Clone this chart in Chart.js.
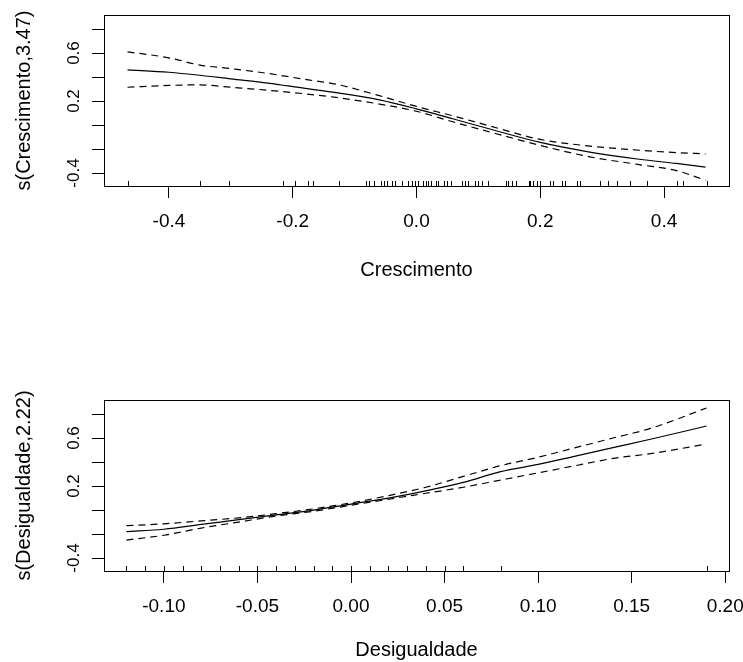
<!DOCTYPE html>
<html>
<head>
<meta charset="utf-8">
<script src="https://cdn.jsdelivr.net/npm/chart.js@4.4.0/dist/chart.umd.min.js"></script>
<style>
    body { margin: 0; background: #fff; }
    canvas { position: absolute; left: 0; }
    #chart1 { top: 0; }
    #chart2 { top: 331px; }
</style>
</head>
<body>
<canvas id="chart1" width="743" height="331"></canvas>
<canvas id="chart2" width="743" height="331"></canvas>
<script>
// Crescimento term
const crescX = [-0.467, -0.4, -0.35, -0.3, -0.24, -0.18, -0.13, -0.06, 0.0, 0.06, 0.12, 0.2, 0.28, 0.36, 0.42, 0.467];
const crescFit = [0.46, 0.44, 0.415, 0.385, 0.35, 0.305, 0.27, 0.21, 0.135, 0.05, -0.035, -0.145, -0.225, -0.285, -0.32, -0.35];
const crescUpper = [0.61, 0.56, 0.50, 0.47, 0.43, 0.38, 0.34, 0.245, 0.155, 0.075, -0.01, -0.12, -0.175, -0.21, -0.23, -0.24];
const crescLower = [0.315, 0.33, 0.335, 0.315, 0.29, 0.26, 0.23, 0.175, 0.115, 0.025, -0.06, -0.17, -0.265, -0.33, -0.38, -0.46];
const crescRug = [-0.466, -0.35, -0.303, -0.216, -0.197, -0.176, -0.168, -0.126, -0.082, -0.077, -0.069,
    -0.058, -0.053, -0.048, -0.039, -0.034, -0.023, -0.013, -0.008, -0.002, 0.003, 0.011, 0.015, 0.019,
    0.024, 0.031, 0.034, 0.044, 0.05, 0.055, 0.074, 0.079, 0.084, 0.095, 0.1, 0.106, 0.116, 0.144, 0.148,
    0.155, 0.16, 0.181, 0.184, 0.189, 0.195, 0.2, 0.216, 0.221, 0.235, 0.24, 0.26, 0.265, 0.297, 0.31,
    0.324, 0.345, 0.373, 0.421, 0.431, 0.469];
const crescTicks = [-0.4, -0.2, 0.0, 0.2, 0.4];
const crescTickLabels = ['-0.4', '-0.2', '0.0', '0.2', '0.4'];

// Desigualdade term
const desigX = [-0.12, -0.10, -0.08, -0.06, -0.04, -0.02, 0.0, 0.02, 0.04, 0.06, 0.08, 0.10, 0.12, 0.14, 0.16, 0.19];
const desigFit = [-0.18, -0.16, -0.12, -0.08, -0.04, 0.0, 0.05, 0.10, 0.16, 0.23, 0.32, 0.38, 0.45, 0.52, 0.59, 0.70];
const desigUpper = [-0.13, -0.115, -0.09, -0.065, -0.03, 0.01, 0.06, 0.12, 0.19, 0.28, 0.37, 0.44, 0.52, 0.60, 0.68, 0.85];
const desigLower = [-0.25, -0.21, -0.15, -0.10, -0.05, -0.01, 0.04, 0.09, 0.14, 0.19, 0.25, 0.31, 0.37, 0.43, 0.47, 0.55];
const desigRug = [-0.12, -0.11, -0.10, -0.09, -0.08, -0.07, -0.06, -0.05, -0.04, -0.03, -0.02, -0.01,
    0.0, 0.01, 0.02, 0.03, 0.04, 0.05, 0.06, 0.08, 0.19];
const desigTicks = [-0.10, -0.05, 0.0, 0.05, 0.10, 0.15, 0.20];
const desigTickLabels = ['-0.10', '-0.05', '0.00', '0.05', '0.10', '0.15', '0.20'];

// shared y axis
const yTicks = [-0.4, -0.2, 0.0, 0.2, 0.4, 0.6, 0.8];
const yLabelValues = [-0.4, 0.2, 0.6];
const yLabelText = ['-0.4', '0.2', '0.6'];

const FONT = '"Liberation Sans", Arial, sans-serif';

// box, rug and rotated y tick labels
const rPlot = {
    id: 'rPlot',
    afterDraw(chart, args, opts) {
        const ctx = chart.ctx;
        const a = chart.chartArea;
        const xs = chart.scales.x;
        const ys = chart.scales.y;
        ctx.save();
        ctx.strokeStyle = '#000';
        ctx.lineWidth = 1;
        ctx.strokeRect(Math.round(a.left) + 0.5, Math.round(a.top) + 0.5,
            Math.round(a.right - a.left), Math.round(a.bottom - a.top));

        ctx.beginPath();
        opts.rug.forEach(v => {
            const px = Math.round(xs.getPixelForValue(v)) + 0.5;
            ctx.moveTo(px, a.bottom);
            ctx.lineTo(px, a.bottom - 5);
        });
        ctx.stroke();

        ctx.fillStyle = '#000';
        ctx.font = '17px ' + FONT;
        ctx.textAlign = 'center';
        ctx.textBaseline = 'middle';
        yLabelValues.forEach((v, i) => {
            ctx.save();
            ctx.translate(74, ys.getPixelForValue(v));
            ctx.rotate(-Math.PI / 2);
            ctx.fillText(yLabelText[i], 0, 0);
            ctx.restore();
        });
        ctx.restore();
    }
};

function curve(xs, ys, dashed) {
    return {
        data: xs.map((x, i) => ({ x: x, y: ys[i] })),
        borderColor: '#000',
        borderWidth: 1.2,
        borderDash: dashed ? [7, 5] : [],
        pointRadius: 0,
        cubicInterpolationMode: 'monotone',
        fill: false,
    };
}

function makeConfig(p) {
    return {
        type: 'line',
        data: {
            datasets: [
                curve(p.x, p.fit, false),
                curve(p.x, p.upper, true),
                curve(p.x, p.lower, true),
            ],
        },
        options: {
            responsive: false,
            animation: false,
            devicePixelRatio: 1,
            layout: { padding: { left: 0, right: 14, top: p.padTop, bottom: 0 } },
            plugins: {
                legend: { display: false },
                tooltip: { enabled: false },
                rPlot: { rug: p.rug },
            },
            scales: {
                x: {
                    type: 'linear',
                    min: p.xMin,
                    max: p.xMax,
                    afterBuildTicks: s => { s.ticks = p.ticks.map(v => ({ value: v })); },
                    afterFit: s => { s.height = p.xHeight; s.paddingLeft = 0; s.paddingRight = 0; },
                    ticks: {
                        autoSkip: false,
                        maxRotation: 0,
                        minRotation: 0,
                        padding: 12,
                        color: '#000',
                        font: { family: FONT, size: 19 },
                        callback: (v, i) => p.tickLabels[i],
                    },
                    grid: { drawOnChartArea: false, drawTicks: true, tickLength: 12, color: '#000' },
                    border: { display: true, color: '#000' },
                    title: {
                        display: true,
                        text: p.xTitle,
                        color: '#000',
                        font: { family: FONT, size: 20 },
                        padding: { top: 0, bottom: p.titlePad },
                    },
                },
                y: {
                    type: 'linear',
                    min: -0.508,
                    max: 0.917,
                    afterBuildTicks: s => { s.ticks = yTicks.map(v => ({ value: v })); },
                    afterFit: s => { s.width = 104; s.paddingTop = 0; s.paddingBottom = 0; },
                    ticks: { display: false },
                    grid: { drawOnChartArea: false, drawTicks: true, tickLength: 12, color: '#000' },
                    border: { display: true, color: '#000' },
                    title: {
                        display: true,
                        text: p.yTitle,
                        color: '#000',
                        font: { family: FONT, size: 20 },
                        padding: { top: 12, bottom: 0 },
                    },
                },
            },
        },
        plugins: [rPlot],
    };
}

const config_cresc = makeConfig({
    x: crescX, fit: crescFit, upper: crescUpper, lower: crescLower, rug: crescRug,
    xMin: -0.505, xMax: 0.505, ticks: crescTicks, tickLabels: crescTickLabels,
    xTitle: 'Crescimento', yTitle: 's(Crescimento,3.47)',
    padTop: 15, xHeight: 145, titlePad: 49,
});

const config_desig = makeConfig({
    x: desigX, fit: desigFit, upper: desigUpper, lower: desigLower, rug: desigRug,
    xMin: -0.132, xMax: 0.202, ticks: desigTicks, tickLabels: desigTickLabels,
    xTitle: 'Desigualdade', yTitle: 's(Desigualdade,2.22)',
    padTop: 69, xHeight: 91, titlePad: 0,
});

const cresc = new Chart(document.getElementById('chart1').getContext('2d'), config_cresc);
const desig = new Chart(document.getElementById('chart2').getContext('2d'), config_desig);
</script>
</body>
</html>
